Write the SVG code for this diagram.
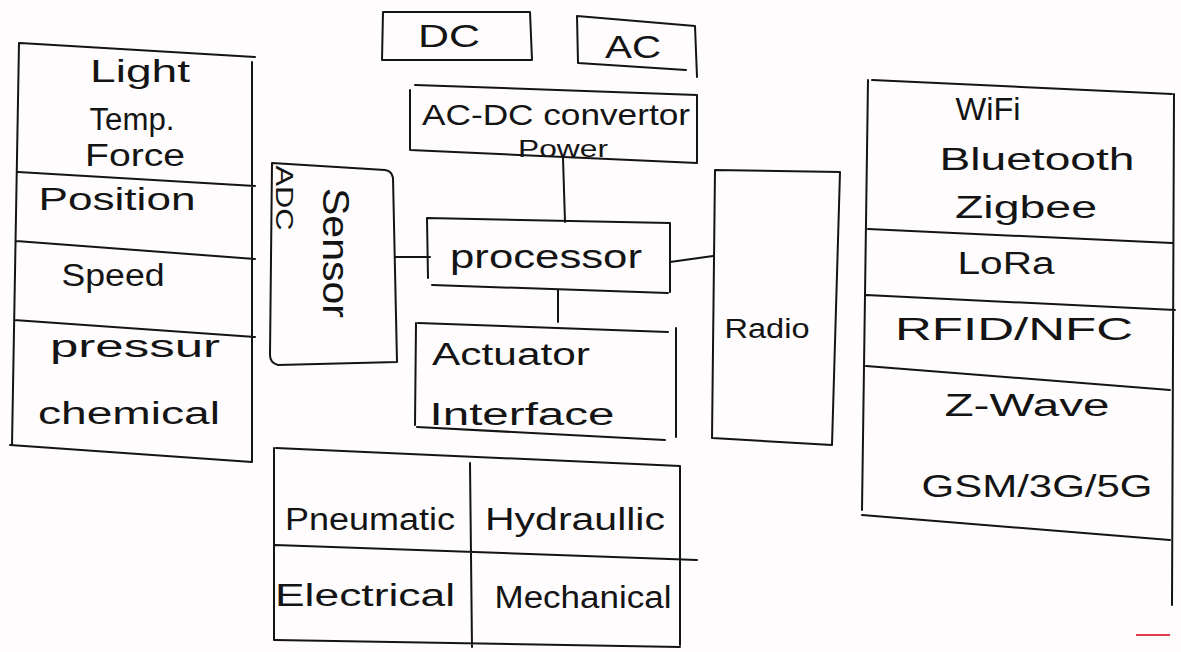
<svg xmlns="http://www.w3.org/2000/svg" width="1181" height="652" viewBox="0 0 1181 652">
<style>
.ln{fill:none;stroke:#141414;stroke-width:2;stroke-linecap:round;stroke-linejoin:round}
.t{font-family:"Liberation Sans","DejaVu Sans",sans-serif;font-size:31px;fill:#141414;text-anchor:middle}
.s{font-size:23px}
</style>
<rect width="1181" height="652" fill="#fefcfd"/>
<g id="sensor-types">
<path class="ln" d="M20,43 L255,57 M252,62 L252,462 M19,43 L12,445 M10,445 L252,462 M18,172 L255,186 M16,241 L255,259 M14,320 L255,337"/>
<text class="t" x="140" y="82" textLength="100" lengthAdjust="spacingAndGlyphs">Light</text>
<text class="t" x="132" y="130" textLength="85" lengthAdjust="spacingAndGlyphs">Temp.</text>
<text class="t" x="135" y="166" textLength="100" lengthAdjust="spacingAndGlyphs">Force</text>
<text class="t" x="117" y="210" textLength="157" lengthAdjust="spacingAndGlyphs">Position</text>
<text class="t" x="113" y="286" textLength="103" lengthAdjust="spacingAndGlyphs">Speed</text>
<text class="t" x="135" y="357" textLength="170" lengthAdjust="spacingAndGlyphs">pressur</text>
<text class="t" x="129" y="424" textLength="182" lengthAdjust="spacingAndGlyphs">chemical</text>
</g>
<g id="sensor">
<path class="ln" d="M272,163 L385,170 Q392,171 393,178 L397,362 L278,365 Q270,363 270,355 Z"/>
<text class="t s" transform="translate(276,198) rotate(90)" textLength="65" lengthAdjust="spacingAndGlyphs">ADC</text>
<text class="t" style="font-size:36px" transform="translate(323,253) rotate(90)" textLength="130" lengthAdjust="spacingAndGlyphs">Sensor</text>
</g>
<g id="dc">
<path class="ln" d="M383,12 L530,12 L532,60 L382,60 Z"/>
<text class="t" style="font-size:32px" x="449" y="47" textLength="62" lengthAdjust="spacingAndGlyphs">DC</text>
</g>
<g id="ac">
<path class="ln" d="M577,16 L695,26 L697,77 M577,16 L578,63 L686,70"/>
<text class="t" style="font-size:32px" x="633" y="58" textLength="56" lengthAdjust="spacingAndGlyphs">AC</text>
</g>
<g id="converter">
<path class="ln" d="M415,85 L697,95 L697,162 M410,90 L410,150 L697,163"/>
<text class="t" style="font-size:30px" x="556" y="125" textLength="268" lengthAdjust="spacingAndGlyphs">AC-DC convertor</text>
<text class="t s" x="563" y="157" textLength="90" lengthAdjust="spacingAndGlyphs">Power</text>
</g>
<g id="processor">
<path class="ln" d="M427,218 L670,223 L670,292 M427,218 L428,278 M432,285 L668,293"/>
<text class="t" style="font-size:33px" x="546" y="268" textLength="192" lengthAdjust="spacingAndGlyphs">processor</text>
</g>
<g id="actuator">
<path class="ln" d="M418,323 L668,332 M416,323 L415,425 M417,427 L665,440 M676,328 L676,437"/>
<text class="t" x="511" y="365" textLength="158" lengthAdjust="spacingAndGlyphs">Actuator</text>
<text class="t" x="522" y="425" textLength="185" lengthAdjust="spacingAndGlyphs">Interface</text>
</g>
<g id="radio">
<path class="ln" d="M715,170 L840,172 L832,445 L712,438 Z"/>
<text class="t" style="font-size:27px" x="767" y="338" textLength="85" lengthAdjust="spacingAndGlyphs">Radio</text>
</g>
<g id="radio-types">
<path class="ln" d="M872,80 L1172,94 M1174,94 L1172,605 M868,80 L862,510 M862,515 L1170,540 M868,229 L1172,243 M866,295 L1175,310 M866,366 L1170,390"/>
<text class="t" x="988" y="120" textLength="65" lengthAdjust="spacingAndGlyphs">WiFi</text>
<text class="t" x="1037" y="170" textLength="195" lengthAdjust="spacingAndGlyphs">Bluetooth</text>
<text class="t" x="1026" y="218" textLength="142" lengthAdjust="spacingAndGlyphs">Zigbee</text>
<text class="t" x="1006" y="274" textLength="97" lengthAdjust="spacingAndGlyphs">LoRa</text>
<text class="t" x="1014" y="340" textLength="238" lengthAdjust="spacingAndGlyphs">RFID/NFC</text>
<text class="t" x="1027" y="416" textLength="165" lengthAdjust="spacingAndGlyphs">Z-Wave</text>
<text class="t" x="1037" y="497" textLength="231" lengthAdjust="spacingAndGlyphs">GSM/3G/5G</text>
</g>
<g id="actuator-types">
<path class="ln" d="M276,448 L680,466 M274,448 L274,640 M680,466 L680,645 M470,463 L472,647 M275,545 L697,560 M275,640 L680,647"/>
<text class="t" x="370" y="530" textLength="170" lengthAdjust="spacingAndGlyphs">Pneumatic</text>
<text class="t" x="575" y="530" textLength="180" lengthAdjust="spacingAndGlyphs">Hydraullic</text>
<text class="t" x="365" y="606" textLength="180" lengthAdjust="spacingAndGlyphs">Electrical</text>
<text class="t" x="583" y="608" textLength="177" lengthAdjust="spacingAndGlyphs">Mechanical</text>
</g>
<g id="connectors">
<path class="ln" d="M395,257 L430,257 M563,158 L565,222 M558,290 L558,322 M670,262 L713,256"/>
</g>
<path d="M1136,635 L1170,635" stroke="#e23b4b" stroke-width="2"/>
</svg>
